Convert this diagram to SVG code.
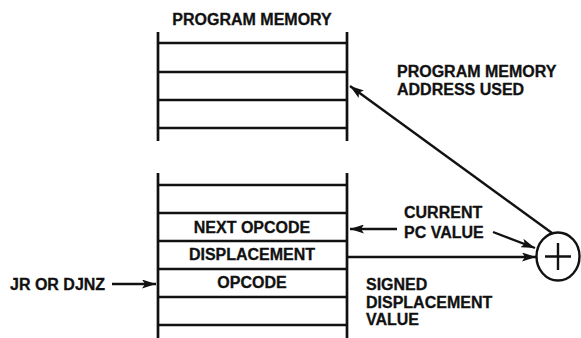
<svg xmlns="http://www.w3.org/2000/svg" width="581" height="338" viewBox="0 0 581 338">
<style>
text{font-family:"Liberation Sans",Arial,sans-serif;font-weight:bold;font-size:16px;fill:#111;stroke:#111;stroke-width:0.3}
.m{text-anchor:middle}
.ln{stroke:#111;stroke-width:2.7;fill:none}
.c{stroke:#111;stroke-width:2.4;fill:none}
</style>
<defs>
<marker id="ah" viewBox="0 0 14 9" refX="14" refY="4.5" markerWidth="14" markerHeight="9" markerUnits="userSpaceOnUse" orient="auto">
<path d="M0,0 L14,4.5 L0,9 L3,4.5 Z" fill="#111"/>
</marker>
</defs>
<g id="program-memory">
<text class="m" x="252" y="25">PROGRAM MEMORY</text>
<path class="ln" d="M158,32 V141 M347,32 V141 M158,43 H347 M158,72 H347 M158,100 H347 M158,128 H347"/>
</g>
<g id="memory-block">
<path class="ln" d="M158,173 V338 M347,173 V338 M158,185 H347 M158,213 H347 M158,241 H347 M158,269 H347 M158,297 H347 M158,325 H347"/>
<text class="m" x="252" y="233">NEXT OPCODE</text>
<text class="m" x="252" y="260">DISPLACEMENT</text>
<text class="m" x="252" y="288">OPCODE</text>
</g>
<g id="adder">
<ellipse cx="558" cy="256.5" rx="21.5" ry="24" class="c"/>
<path class="c" d="M558,243 V270 M545,256.5 H571"/>
</g>
<g id="labels">
<text x="397" y="77">PROGRAM MEMORY</text>
<text x="397" y="95">ADDRESS USED</text>
<text x="404" y="218">CURRENT</text>
<text x="404" y="238">PC VALUE</text>
<text x="10" y="290">JR OR DJNZ</text>
<text x="366" y="290">SIGNED</text>
<text x="366" y="308">DISPLACEMENT</text>
<text x="366" y="325">VALUE</text>
</g>
<g id="connectors">
<line class="c" x1="552" y1="233" x2="350" y2="86" marker-end="url(#ah)"/>
<line class="c" x1="493" y1="232" x2="535" y2="248" marker-end="url(#ah)"/>
<line class="c" x1="397" y1="229" x2="350" y2="229" marker-end="url(#ah)"/>
<line class="c" x1="347" y1="257" x2="536" y2="257" marker-end="url(#ah)"/>
<line class="c" x1="112" y1="284" x2="156" y2="284" marker-end="url(#ah)"/>
</g>
</svg>
